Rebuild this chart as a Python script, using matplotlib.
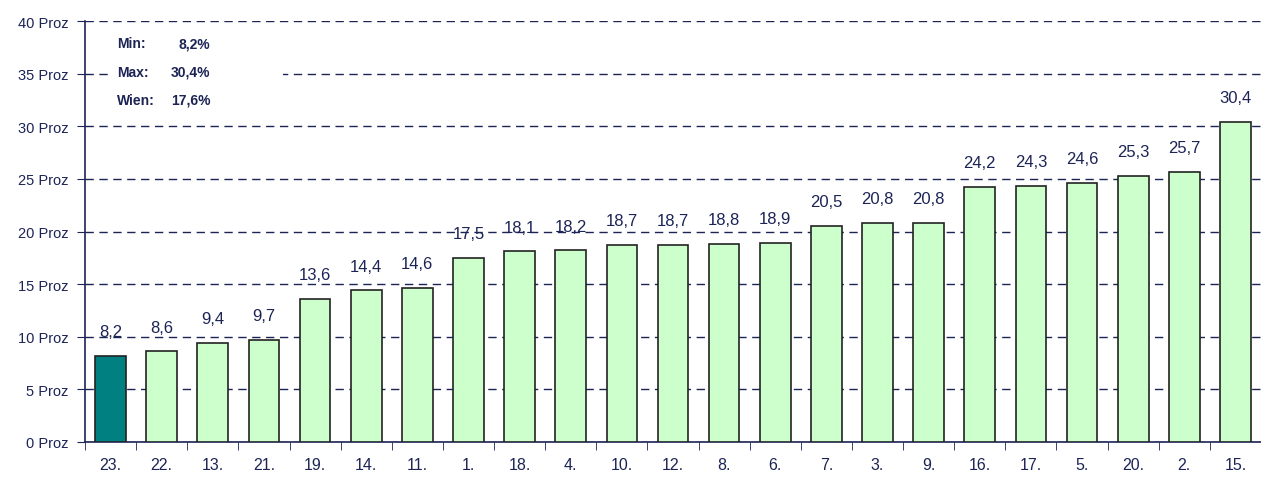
import matplotlib
matplotlib.use("Agg")
import matplotlib.pyplot as plt

districts = ["23.", "22.", "13.", "21.", "19.", "14.", "11.", "1.", "18.", "4.", "10.", "12.",
             "8.", "6.", "7.", "3.", "9.", "16.", "17.", "5.", "20.", "2.", "15."]
values = [8.2, 8.6, 9.4, 9.7, 13.6, 14.4, 14.6, 17.5, 18.1, 18.2, 18.7, 18.7,
          18.8, 18.9, 20.5, 20.8, 20.8, 24.2, 24.3, 24.6, 25.3, 25.7, 30.4]
y_ticks = [0, 5, 10, 15, 20, 25, 30, 35, 40]
summary = [("Min:", "8,2%"), ("Max:", "30,4%"), ("Wien:", "17,6%")]

navy = "#1c2455"
plt.rcParams["font.family"] = ["Liberation Sans", "DejaVu Sans"]

fig = plt.figure(figsize=(12.61, 4.81), dpi=100)
ax = fig.add_axes([85 / 1261, 1 - 443 / 481, 1 - 85 / 1261, (443 - 22) / 481])

colors = ["#008080"] + ["#ccffcc"] * (len(values) - 1)
x = list(range(len(values)))
ax.bar(x, values, width=0.6, color=colors, edgecolor="#222222", linewidth=1.2, zorder=3)

for xi, v in zip(x, values):
    ax.text(xi, v + 1.6, f"{v:.1f}".replace(".", ","), ha="center", va="bottom",
            fontsize=12, color=navy, zorder=4)

ax.set_xlim(-0.5, len(values) - 0.5)
ax.set_ylim(0, 40)
ax.set_yticks(y_ticks)
ax.set_yticklabels([f"{t} Proz" for t in y_ticks], fontsize=10.5, color=navy)
ax.yaxis.grid(True, linestyle=(0, (6, 4)), color=navy, linewidth=1)
ax.set_axisbelow(True)

ax.set_xticks(x)
ax.set_xticklabels(districts, fontsize=11.5, color=navy)
ax.set_xticks([i - 0.5 for i in range(len(values) + 1)], minor=True)
ax.tick_params(axis="x", which="major", length=0, pad=11)
ax.tick_params(axis="x", which="minor", length=6, color=navy, direction="out")
ax.tick_params(axis="y", length=6, color=navy, direction="out", pad=6)

for side in ["top", "right"]:
    ax.spines[side].set_visible(False)
ax.spines["left"].set_color(navy)
ax.spines["bottom"].set_color(navy)
ax.spines["left"].set_linewidth(1.2)
ax.spines["bottom"].set_linewidth(1.2)

# white box behind the summary text
ax.add_patch(plt.Rectangle((0.0, 31.0), 3.37, 8.2, facecolor="white", edgecolor="none", zorder=2))
for i, (lab, val) in enumerate(summary):
    y = 37.9 - i * 2.7
    ax.text(0.12, y, lab, fontsize=10, fontweight="bold", color=navy, va="center", zorder=4)
    ax.text(1.95, y, val, fontsize=10, fontweight="bold", color=navy, va="center", ha="right", zorder=4)

fig.savefig("out.png", dpi=100)
